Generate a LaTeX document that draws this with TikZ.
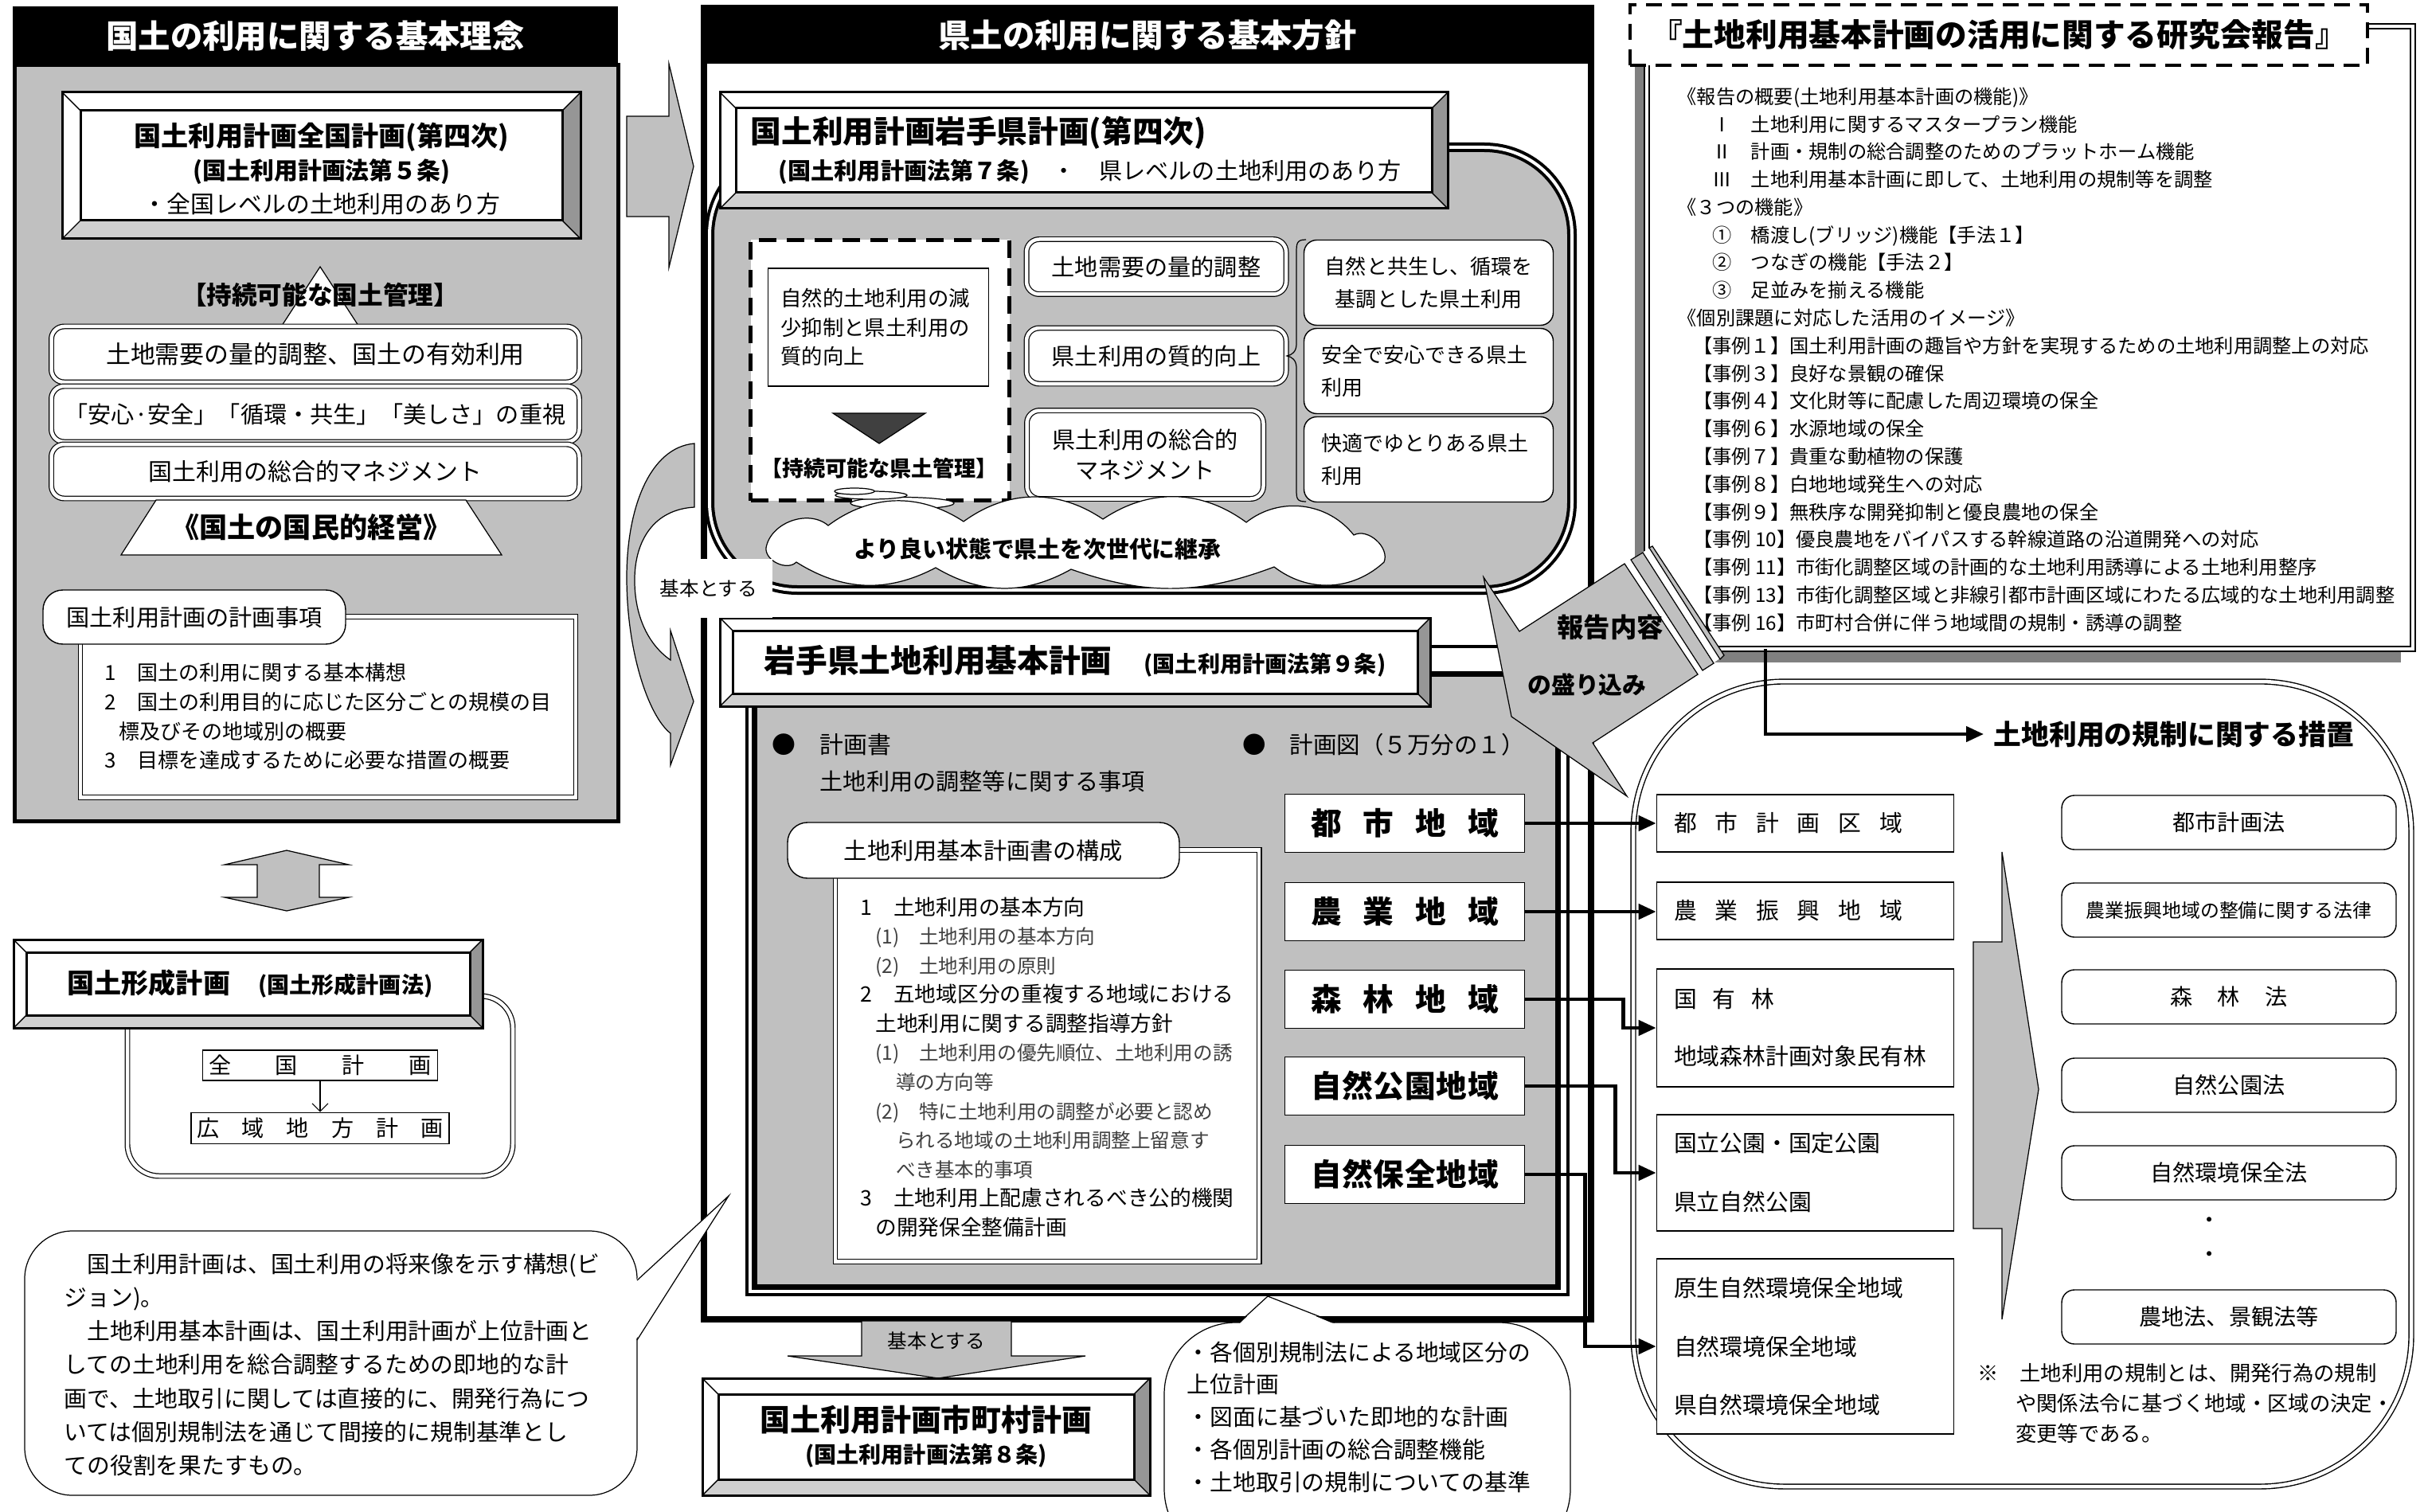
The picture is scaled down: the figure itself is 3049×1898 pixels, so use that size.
\documentclass[tikz,border=0pt]{standalone}
\usepackage{fontspec}
\setmainfont{Noto Sans CJK JP}
\usetikzlibrary{positioning, shapes, shapes.symbols, calc, arrows.meta}

\definecolor{panelgray}{HTML}{C0C0C0}
\definecolor{sidegray}{HTML}{969696}
\definecolor{shadowgray}{HTML}{808080}
\definecolor{tridark}{HTML}{404040}
\definecolor{subgray}{HTML}{404040}

\newcommand{\bevelbox}[5]{%
	\fill[white] (#1,#2) rectangle (#3,#4);
	\fill[sidegray] (#3,#2) -- (#3,#4) -- (#3-#5,#4-#5) -- (#3-#5,#2+#5) -- cycle;
	\fill[panelgray!75] (#1,#4) -- (#3,#4) -- (#3-#5,#4-#5) -- (#1+#5,#4-#5) -- cycle;
	\draw[line width=0.3mm] (#1,#2) rectangle (#3,#4);
	\draw[line width=0.3mm] (#1+#5,#2+#5) rectangle (#3-#5,#4-#5);
	\draw (#1,#2) -- (#1+#5,#2+#5) (#3,#2) -- (#3-#5,#2+#5) (#1,#4) -- (#1+#5,#4-#5) (#3,#4) -- (#3-#5,#4-#5);
}

\tikzset{
	hdr/.style={fill=black, text=white, inner sep=0pt, font=\bfseries\fontsize{11.5}{14}\selectfont},
	dbox/.style={draw, double, double distance=0.45mm, line width=0.35pt, rounded corners=1.6mm, fill=white, inner sep=0pt},
	rbox/.style={draw, line width=0.4pt, rounded corners=1.6mm, fill=white, inner sep=0pt},
	sbox/.style={draw, line width=0.5pt, fill=white, inner sep=0pt},
	zone/.style={draw, line width=0.5pt, fill=white, inner sep=0pt, minimum width=30.1mm, minimum height=7.3mm, font=\bfseries\fontsize{11}{13}\selectfont},
	lawbox/.style={rbox, minimum width=42mm, minimum height=6.8mm, font=\fontsize{8}{10}\selectfont},
	areabox/.style={sbox, minimum width=37.3mm, text width=33mm, align=left, font=\fontsize{8.2}{10}\selectfont},
	conn/.style={line width=0.45mm, -{Triangle[length=2.2mm, width=1.9mm]}},
	blockarrow/.style={draw, fill=panelgray, line width=0.35pt},
	txt/.style={inner sep=0pt}
}

\begin{document}
\begin{tikzpicture}[x=0.1mm, y=-0.1mm]
	\fill[white] (0,0) rectangle (3049,1898);
	\useasboundingbox (0,0) rectangle (3049,1898);

	\draw[line width=0.5mm, fill=panelgray] (18,82) rectangle (776,1031);
	\node[hdr, minimum width=76mm, minimum height=7.4mm] (rinen) at (396,45) {国土の利用に関する基本理念};
	\bevelbox{78}{116}{729}{300}{23}
	\node[txt, align=center, font=\fontsize{8.5}{12}\selectfont] (zenkoku) at (404,212) {{\bfseries\fontsize{9.7}{12}\selectfont 国土利用計画全国計画(第四次)}\\{\bfseries (国土利用計画法第５条)}\\・全国レベルの土地利用のあり方};
	\draw[fill=white, line width=0.35pt] (402,335) -- (352,412) -- (452,412) -- cycle;
	\node[txt, font=\bfseries\fontsize{9}{11}\selectfont] (jizokuL) at (402,370) {【持続可能な国土管理】};
	\node[dbox, minimum width=66.3mm, minimum height=7mm, font=\fontsize{8.8}{10}\selectfont] (yukou) at (396,445) {土地需要の量的調整、国土の有効利用};
	\node[dbox, minimum width=66.3mm, minimum height=7mm, font=\fontsize{8.3}{10}\selectfont] (juushi) at (396,520) {「安心·安全」「循環・共生」「美しさ」の重視};
	\node[dbox, minimum width=66.3mm, minimum height=6.8mm, font=\fontsize{8.5}{10}\selectfont] (management) at (396,592) {国土利用の総合的マネジメント};
	\draw[fill=white, line width=0.35pt] (196,628) -- (585,628) -- (630,697) -- (152,697) -- cycle;
	\node[txt, font=\bfseries\fontsize{10}{12}\selectfont] (kokuminteki) at (391,662) {《国土の国民的経営》};
	\node[sbox, double, double distance=0.45mm, line width=0.35pt, minimum width=62.2mm, minimum height=22.7mm] (jikou) at (412,888) {};
	\node[txt, anchor=west, align=left, font=\fontsize{7.4}{10.4}\selectfont] (jikouitems) at (131,900) {1　国土の利用に関する基本構想\\2　国土の利用目的に応じた区分ごとの規模の目\\\hspace*{0.7em}標及びその地域別の概要\\3　目標を達成するために必要な措置の概要};
	\node[rbox, rounded corners=2.5mm, minimum width=38mm, minimum height=6.8mm, font=\fontsize{8.3}{10}\selectfont] (jikoutab) at (244,775) {国土利用計画の計画事項};

	\draw[blockarrow] (360,1068) -- (438,1086) -- (401,1086) -- (401,1127) -- (438,1127) -- (360,1144) -- (282,1127) -- (323,1127) -- (323,1086) -- (282,1086) -- cycle;
	\draw[double, double distance=0.45mm, line width=0.35pt, fill=white, rounded corners=4mm] (160,1251) rectangle (644,1477);
	\bevelbox{17}{1180}{606}{1291}{16}
	\node[txt] (keisei) at (314,1236) {{\bfseries\fontsize{9.7}{12}\selectfont 国土形成計画}\hspace{3.5mm}{\bfseries\fontsize{8}{10}\selectfont (国土形成計画法)}};
	\node[sbox, minimum width=29.5mm, minimum height=3.8mm, font=\fontsize{8}{10}\selectfont] (zenkokuK) at (402,1338) {\makebox[28mm][s]{全\hfill{}国\hfill{}計\hfill{}画}};
	\node[sbox, minimum width=32.4mm, minimum height=3.9mm, font=\fontsize{8}{10}\selectfont] (kouiki) at (402,1417) {\makebox[31mm][s]{広\hfill{}域\hfill{}地\hfill{}方\hfill{}計\hfill{}画}};
	\draw[-{Straight Barb[length=1mm]}, line width=0.3pt] (zenkokuK) -- (kouiki);

	\draw[line width=0.8mm, fill=white] (884,10) rectangle (1998,1657);
	\node[hdr, minimum width=111.4mm, minimum height=7.2mm] (houshin) at (1441,44) {県土の利用に関する基本方針};
	\draw[double, double distance=0.4mm, line width=0.4mm, fill=panelgray, rounded corners=11mm] (891,185) rectangle (1974,741);
	\bevelbox{904}{116}{1818}{262}{20}
	\node[txt, anchor=west, align=left, font=\fontsize{8.3}{13}\selectfont] (kenkeikaku) at (942,189) {{\bfseries\fontsize{11}{13}\selectfont 国土利用計画岩手県計画(第四次)}\\\hspace*{3.5mm}{\bfseries (国土利用計画法第７条)}\quad ・\quad 県レベルの土地利用のあり方};
	\node[draw, dash pattern=on 2.2mm off 1.3mm, line width=0.5mm, fill=white, minimum width=32.5mm, minimum height=32.7mm] (jizokuK) at (1105,465) {};
	\node[sbox, line width=0.35pt, minimum width=27.7mm, minimum height=14.8mm, text width=24.5mm, align=left, font=\fontsize{7.5}{10.4}\selectfont] (genshou) at (1103,411) {自然的土地利用の減\\少抑制と県土利用の\\質的向上};
	\draw[fill=tridark, line width=0.35pt] (1046,519) -- (1162,519) -- (1104,557) -- cycle;
	\node[txt, font=\bfseries\fontsize{7.7}{10}\selectfont] (jizokuKtxt) at (1104,588) {【持続可能な県土管理】};
	\node[dbox, minimum width=32.6mm, minimum height=6.9mm, font=\fontsize{8.3}{10}\selectfont] (ryoteki) at (1452,335) {土地需要の量的調整};
	\node[dbox, minimum width=32.6mm, minimum height=7mm, font=\fontsize{8.3}{10}\selectfont] (shitsuteki) at (1452,447) {県土利用の質的向上};
	\node[dbox, minimum width=29.7mm, minimum height=11.1mm, align=center, font=\fontsize{8.3}{11}\selectfont] (sougou) at (1438,571) {県土利用の総合的\\マネジメント};
	\draw[line width=0.35pt] (1640,301) .. controls (1628,301) and (1628,306) .. (1628,318) -- (1628,432) .. controls (1628,442) and (1622,446) .. (1616,447) .. controls (1622,448) and (1628,452) .. (1628,462) -- (1628,614) .. controls (1628,626) and (1628,630) .. (1640,630);
	\node[rbox, minimum width=31.3mm, minimum height=10.7mm, align=center, font=\fontsize{7.4}{11.6}\selectfont] (kyousei) at (1794,355) {自然と共生し、循環を\\基調とした県土利用};
	\node[rbox, minimum width=31.3mm, minimum height=10.7mm, text width=27mm, align=left, font=\fontsize{7.4}{11.6}\selectfont] (anzen) at (1794,466) {安全で安心できる県土\\利用};
	\node[rbox, minimum width=31.3mm, minimum height=10.7mm, text width=27mm, align=left, font=\fontsize{7.4}{11.6}\selectfont] (kaiteki) at (1794,577) {快適でゆとりある県土\\利用};
	\draw[fill=white, line width=0.35pt] (1133,632) ellipse [x radius=6.5mm, y radius=0.75mm];
	\draw[fill=white, line width=0.35pt] (1094,622) ellipse [x radius=4.5mm, y radius=0.5mm];
	\draw[fill=white, line width=0.35pt] (1073,617) ellipse [x radius=2.5mm, y radius=0.4mm];
	\draw[fill=white, line width=0.35pt] (962,688) to[bend left=60] (1040,660) to[bend left=35] (1210,655) to[bend left=35] (1385,652) to[bend left=35] (1565,656) to[bend left=45] (1700,672) to[bend left=70] (1738,706) to[bend left=40] (1600,712) to[bend left=20] (1345,715) to[bend left=30] (1175,713) to[bend left=30] (1000,706) to[bend left=70] (962,688) -- cycle;
	\node[txt, font=\bfseries\fontsize{8.2}{10}\selectfont] (keishou) at (1303,690) {より良い状態で県土を次世代に継承};

	\draw[line width=0.4mm] (938,812) rectangle (1969,1626);
	\draw[line width=0.7mm, fill=panelgray] (947,846) rectangle (1956,1616);
	\bevelbox{904}{776}{1796}{887}{16}
	\node[txt] (tochikihon) at (1350,830) {{\bfseries\fontsize{11.3}{13}\selectfont 岩手県土地利用基本計画}\hspace{4mm}{\bfseries\fontsize{8}{10}\selectfont (国土利用計画法第９条)}};
	\node[txt, anchor=west, font=\fontsize{8.5}{10}\selectfont] (keikakusho) at (969,935) {●　計画書};
	\node[txt, anchor=west, font=\fontsize{8.3}{10}\selectfont] (chousei) at (1029,981) {土地利用の調整等に関する事項};
	\node[txt, anchor=west, font=\fontsize{8.4}{10}\selectfont] (keikakuzu) at (1560,935) {●　計画図（５万分の１）};
	\node[sbox, double, double distance=0.45mm, line width=0.35pt, minimum width=53.2mm, minimum height=51.7mm] (kousei) at (1315,1326) {};
	\node[rbox, rounded corners=2.5mm, minimum width=49.2mm, minimum height=7mm, font=\fontsize{8.3}{10}\selectfont] (kouseitab) at (1235,1068) {土地利用基本計画書の構成};
	\node[txt, anchor=north west, align=left, font=\fontsize{7.6}{10.4}\selectfont] (kouseiitems) at (1080,1126) {1　土地利用の基本方向\\
		{\color{subgray}\fontsize{7}{10.4}\selectfont\hspace*{0.75em}(1)　土地利用の基本方向}\\
		{\color{subgray}\fontsize{7}{10.4}\selectfont\hspace*{0.75em}(2)　土地利用の原則}\\
		2　五地域区分の重複する地域における\\
		\hspace*{0.7em}土地利用に関する調整指導方針\\
		{\color{subgray}\fontsize{7}{10.4}\selectfont\hspace*{0.75em}(1)　土地利用の優先順位、土地利用の誘}\\
		{\color{subgray}\fontsize{7}{10.4}\selectfont\hspace*{1.8em}導の方向等}\\
		{\color{subgray}\fontsize{7}{10.4}\selectfont\hspace*{0.75em}(2)　特に土地利用の調整が必要と認め}\\
		{\color{subgray}\fontsize{7}{10.4}\selectfont\hspace*{1.8em}られる地域の土地利用調整上留意す}\\
		{\color{subgray}\fontsize{7}{10.4}\selectfont\hspace*{1.8em}べき基本的事項}\\
		3　土地利用上配慮されるべき公的機関\\
		\hspace*{0.7em}の開発保全整備計画};
	\node[zone] (toshi) at (1764,1034) {\makebox[23.6mm][s]{都\hfill{}市\hfill{}地\hfill{}域}};
	\node[zone] (nougyou) at (1764,1145) {\makebox[23.6mm][s]{農\hfill{}業\hfill{}地\hfill{}域}};
	\node[zone] (shinrin) at (1764,1255) {\makebox[23.6mm][s]{森\hfill{}林\hfill{}地\hfill{}域}};
	\node[zone] (shizenkouen) at (1764,1364) {\makebox[23.6mm][s]{自\hfill{}然\hfill{}公\hfill{}園\hfill{}地\hfill{}域}};
	\node[zone] (shizenhozen) at (1764,1475) {\makebox[23.6mm][s]{自\hfill{}然\hfill{}保\hfill{}全\hfill{}地\hfill{}域}};

	\node[fill=white, inner sep=0pt, minimum width=16mm, minimum height=7.4mm, font=\fontsize{7}{9}\selectfont] (kihonL) at (890,739) {基本とする};
	\draw[blockarrow] (787,146) -- (840,146) -- (840,80) -- (871,209) -- (840,336) -- (840,272) -- (787,272) -- cycle;
	\draw[blockarrow] (872,557) .. controls (815,562) and (787,640) .. (787,725) .. controls (787,820) and (815,900) .. (842,921) -- (842,961) -- (871,881) -- (842,792) -- (842,829) .. controls (812,808) and (796,770) .. (797,725) .. controls (798,680) and (820,640) .. (872,637) -- cycle;

	\draw[blockarrow] (1082,1659) -- (1270,1659) -- (1270,1703) -- (1363,1703) -- (1178,1731) -- (989,1703) -- (1082,1703) -- cycle;
	\node[txt, font=\fontsize{7}{9}\selectfont] (kihonD) at (1176,1684) {基本とする};
	\bevelbox{882}{1731}{1444}{1878}{20}
	\node[txt, align=center, font=\bfseries\fontsize{8}{11.5}\selectfont] (shichoson) at (1163,1804) {{\fontsize{10.8}{13}\selectfont 国土利用計画市町村計画}\\(国土利用計画法第８条)};

	\fill[shadowgray] (2053,50) rectangle (3015,832);
	\node[sbox, double, double distance=0.4mm, line width=0.5pt, minimum width=96.2mm, minimum height=78.2mm] (houkoku) at (2549,424) {};
	\node[txt, anchor=north west, align=left, font=\fontsize{6.9}{9.9}\selectfont] (houkokuitems) at (2106,109) {《報告の概要(土地利用基本計画の機能)》\\
		\hspace*{1.8em}Ⅰ　土地利用に関するマスタープラン機能\\
		\hspace*{1.8em}Ⅱ　計画・規制の総合調整のためのプラットホーム機能\\
		\hspace*{1.8em}Ⅲ　土地利用基本計画に即して、土地利用の規制等を調整\\
		《３つの機能》\\
		\hspace*{1.8em}①　橋渡し(ブリッジ)機能【手法１】\\
		\hspace*{1.8em}②　つなぎの機能【手法２】\\
		\hspace*{1.8em}③　足並みを揃える機能\\
		《個別課題に対応した活用のイメージ》\\
		\hspace*{0.8em}【事例１】国土利用計画の趣旨や方針を実現するための土地利用調整上の対応\\
		\hspace*{0.8em}【事例３】良好な景観の確保\\
		\hspace*{0.8em}【事例４】文化財等に配慮した周辺環境の保全\\
		\hspace*{0.8em}【事例６】水源地域の保全\\
		\hspace*{0.8em}【事例７】貴重な動植物の保護\\
		\hspace*{0.8em}【事例８】白地地域発生への対応\\
		\hspace*{0.8em}【事例９】無秩序な開発抑制と優良農地の保全\\
		\hspace*{0.8em}【事例 10】優良農地をバイパスする幹線道路の沿道開発への対応\\
		\hspace*{0.8em}【事例 11】市街化調整区域の計画的な土地利用誘導による土地利用整序\\
		\hspace*{0.8em}【事例 13】市街化調整区域と非線引都市計画区域にわたる広域的な土地利用調整\\
		\hspace*{0.8em}【事例 16】市町村合併に伴う地域間の規制・誘導の調整};
	\node[draw, dash pattern=on 2mm off 1.2mm, line width=0.45mm, fill=white, minimum width=92.6mm, minimum height=7.6mm, inner sep=0pt, font=\bfseries\fontsize{11.3}{13}\selectfont] (kenkyukai) at (2510,44) {『土地利用基本計画の活用に関する研究会報告』};

	\draw[double, double distance=0.45mm, line width=0.4pt, fill=white, rounded corners=19mm] (2051,856) rectangle (3028,1867);
	\coordinate (kiseistart) at (2217,815);
	\node[txt, anchor=west, font=\bfseries\fontsize{9.9}{12}\selectfont] (kisei) at (2503,922) {土地利用の規制に関する措置};
	\draw[conn] (kiseistart) |- ([xshift=-1.2mm]kisei.west);
	\node[areabox, minimum height=7.2mm] (tokei) at (2267,1034) {\makebox[28.7mm][s]{都\hfill{}市\hfill{}計\hfill{}画\hfill{}区\hfill{}域}};
	\node[areabox, minimum height=7.2mm] (nouson) at (2267,1144) {\makebox[28.7mm][s]{農\hfill{}業\hfill{}振\hfill{}興\hfill{}地\hfill{}域}};
	\node[areabox, minimum height=14.8mm, font=\fontsize{8.2}{20.5}\selectfont] (kokuyu) at (2267,1291) {\makebox[12.6mm][s]{国\hfill{}有\hfill{}林}\\地域森林計画対象民有林};
	\node[areabox, minimum height=14.6mm, font=\fontsize{8.2}{21}\selectfont] (kouen) at (2267,1473) {国立公園・国定公園\\県立自然公園};
	\node[areabox, minimum height=22mm, font=\fontsize{8.2}{20.8}\selectfont] (hozen) at (2267,1691) {原生自然環境保全地域\\自然環境保全地域\\県自然環境保全地域};
	\draw[blockarrow] (2514,1070) -- (2560,1368) -- (2514,1657) -- (2514,1543) -- (2478,1543) -- (2478,1183) -- (2514,1183) -- cycle;
	\node[lawbox] (toshihou) at (2799,1033) {都市計画法};
	\node[lawbox, font=\fontsize{6.8}{9}\selectfont] (nouhou) at (2799,1143) {農業振興地域の整備に関する法律};
	\node[lawbox] (shinrinhou) at (2799,1252) {\makebox[14.8mm][s]{森\hfill{}林\hfill{}法}};
	\node[lawbox] (kouenhou) at (2799,1363) {自然公園法};
	\node[lawbox] (kankyouhou) at (2799,1473) {自然環境保全法};
	\node[txt, align=center, font=\fontsize{8}{12.2}\selectfont] (dots) at (2775,1557) {・\\・};
	\node[lawbox] (nouchihou) at (2799,1654) {農地法、景観法等};
	\node[txt, anchor=north west, align=left, font=\fontsize{7.5}{10.8}\selectfont] (chuui) at (2483,1712) {※　土地利用の規制とは、開発行為の規制\\\hspace*{1.8em}や関係法令に基づく地域・区域の決定・\\\hspace*{1.8em}変更等である。};

	\draw[conn] (toshi.east) -- (toshi.east -| tokei.west);
	\draw[conn] (nougyou.east) -- (nougyou.east -| nouson.west);
	\draw[conn] (shinrin.east) -- ++(123,0) |- (kokuyu.west);
	\draw[conn] (shizenkouen.east) -- ++(113,0) |- (kouen.west);
	\draw[conn] (shizenhozen.east) -- ++(75,0) |- (hozen.west);

	\fill[white] (2040,708) -- (2075,686) -- (2165,823) -- (2132,847) -- cycle;
	\draw[blockarrow] (1863,725) -- (1908,793) -- (2040,708) -- (2132,847) -- (2000,933) -- (2043,1000) -- (1898,900) -- cycle;
	\draw[blockarrow] (2048,703) -- (2063,694) -- (2152,833) -- (2138,842) -- cycle;
	\draw[blockarrow] (2071,688) -- (2075,686) -- (2165,823) -- (2160,828) -- cycle;
	\node[txt, font=\bfseries\fontsize{9.5}{11}\selectfont] (houkokunaiyou) at (2022,788) {報告内容};
	\node[txt, font=\bfseries\fontsize{8.5}{10}\selectfont] (morikomi) at (1993,860) {の盛り込み};

	\draw[fill=white, line width=0.35pt, rounded corners=6mm] (31,1546) rectangle (800,1878);
	\fill[white] (798,1608) -- (915,1502) -- (798,1683) -- cycle;
	\draw[line width=0.35pt] (800,1608) -- (915,1502) -- (800,1683);
	\node[txt, anchor=west, align=left, font=\fontsize{8.2}{12}\selectfont] (kousou) at (80,1714) {\hspace*{1em}国土利用計画は、国土利用の将来像を示す構想(ビ\\ジョン)。\\\hspace*{1em}土地利用基本計画は、国土利用計画が上位計画と\\しての土地利用を総合調整するための即地的な計\\画で、土地取引に関しては直接的に、開発行為につ\\いては個別規制法を通じて間接的に規制基準とし\\ての役割を果たすもの。};

	\draw[fill=white, line width=0.35pt, rounded corners=9mm] (1462,1661) rectangle (1972,1960);
	\fill[white] (1556,1663) -- (1592,1628) -- (1676,1663) -- cycle;
	\draw[line width=0.35pt] (1556,1661) -- (1592,1628) -- (1676,1661);
	\node[txt, anchor=north west, align=left, font=\fontsize{8.2}{11.6}\selectfont] (tokuchou) at (1490,1684) {・各個別規制法による地域区分の\\上位計画\\・図面に基づいた即地的な計画\\・各個別計画の総合調整機能\\・土地取引の規制についての基準};
\end{tikzpicture}
\end{document}
